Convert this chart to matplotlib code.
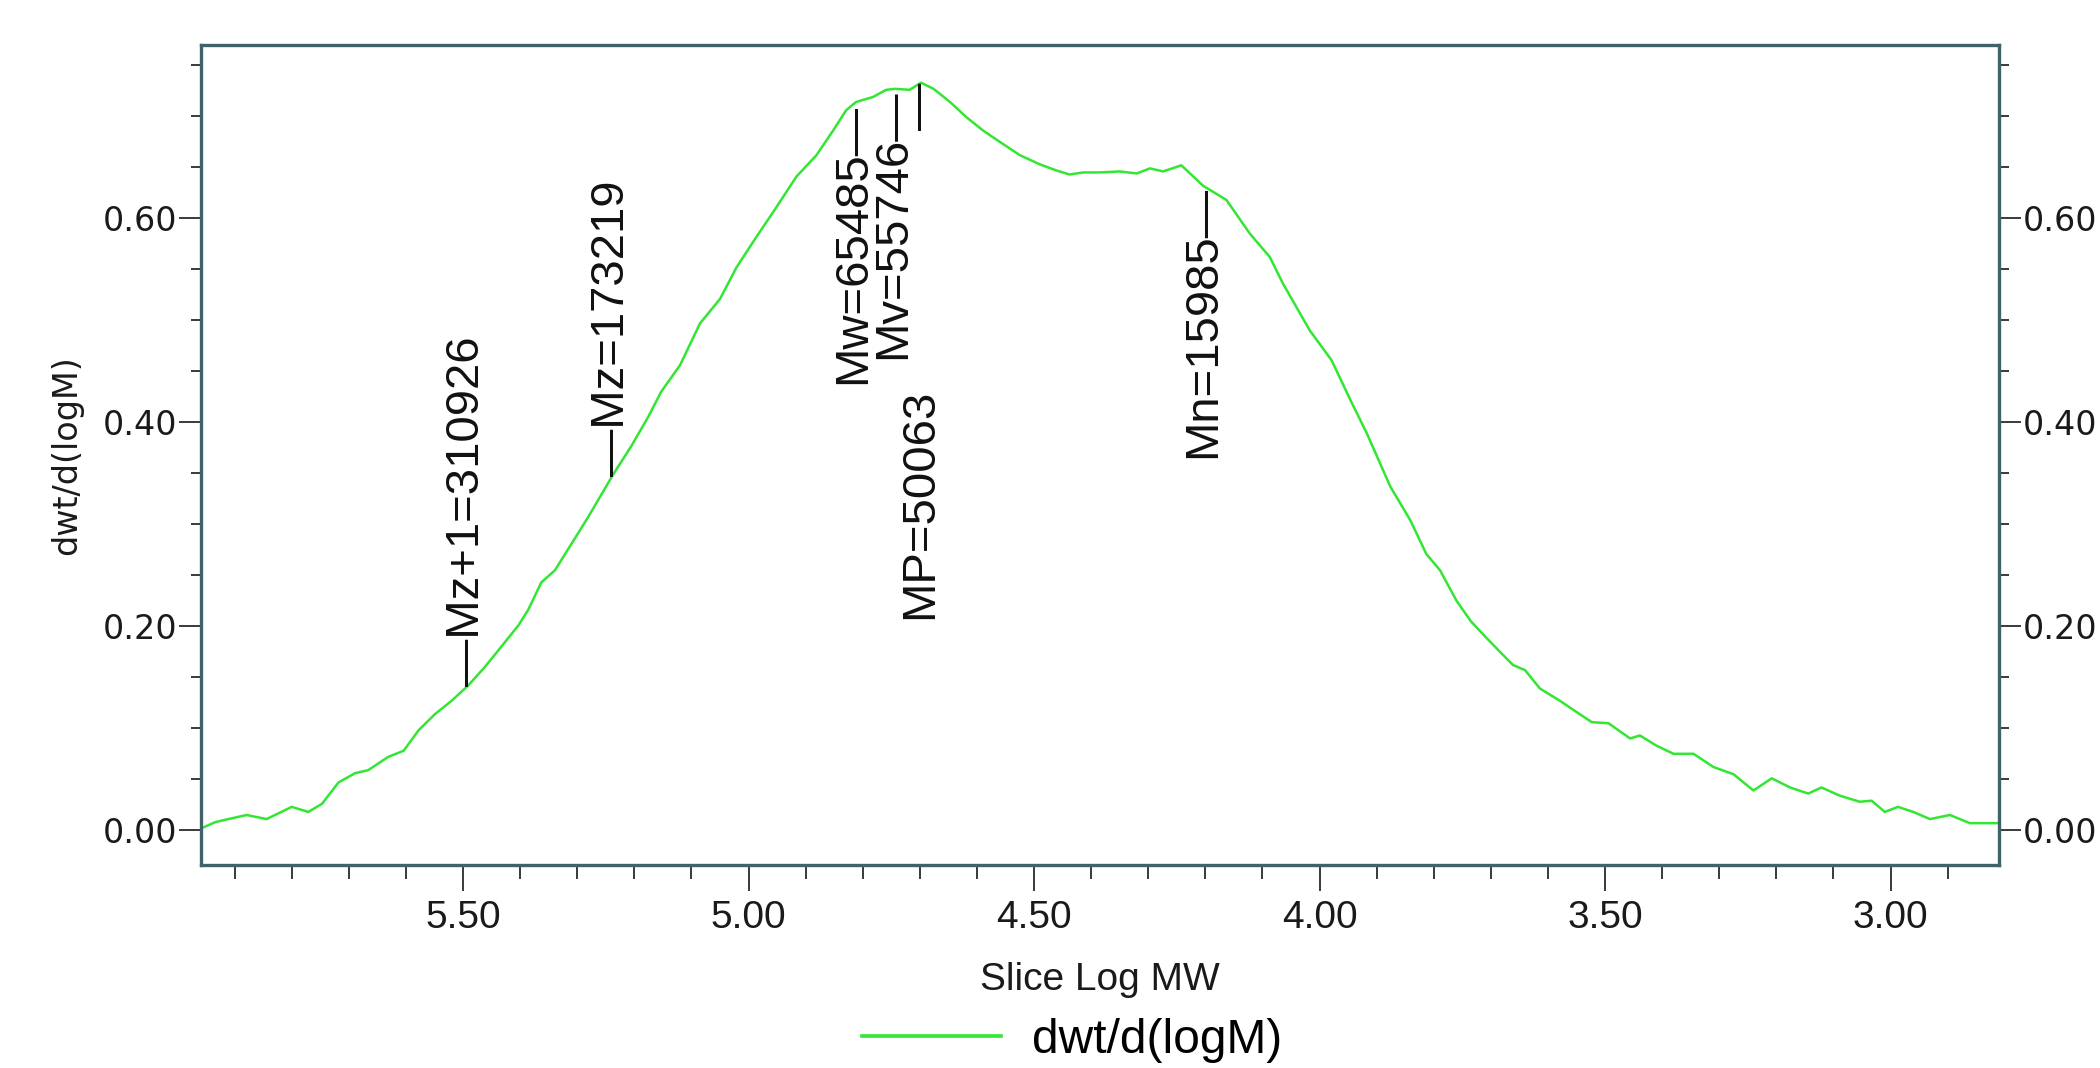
import numpy as np
import matplotlib
matplotlib.use("Agg")
import matplotlib.pyplot as plt
from matplotlib.ticker import MultipleLocator, FormatStrFormatter

# slice log MW and dwt/d(logM)
log_mw = [5.958, 5.934, 5.911, 5.879, 5.844, 5.800, 5.771, 5.747, 5.718, 5.689,
          5.666, 5.631, 5.604, 5.578, 5.549, 5.520, 5.491, 5.462, 5.433, 5.403,
          5.386, 5.363, 5.339, 5.310, 5.281, 5.237, 5.205, 5.176, 5.153, 5.120,
          5.085, 5.050, 5.021, 4.986, 4.957, 4.916, 4.881, 4.852, 4.829, 4.812,
          4.782, 4.759, 4.743, 4.718, 4.698, 4.676, 4.647, 4.618, 4.589, 4.560,
          4.525, 4.490, 4.461, 4.438, 4.414, 4.385, 4.350, 4.320, 4.297, 4.274,
          4.242, 4.204, 4.163, 4.122, 4.087, 4.064, 4.017, 3.979, 3.946, 3.917,
          3.876, 3.841, 3.813, 3.789, 3.760, 3.735, 3.710, 3.684, 3.661, 3.640,
          3.614, 3.579, 3.550, 3.523, 3.494, 3.456, 3.439, 3.410, 3.380, 3.345,
          3.310, 3.275, 3.240, 3.208, 3.176, 3.144, 3.121, 3.089, 3.054, 3.033,
          3.010, 2.987, 2.960, 2.931, 2.896, 2.861, 2.811]
dwt = [0.002, 0.008, 0.011, 0.015, 0.011, 0.023, 0.018, 0.026, 0.047, 0.056,
       0.059, 0.072, 0.078, 0.098, 0.114, 0.127, 0.142, 0.160, 0.180, 0.201,
       0.216, 0.243, 0.255, 0.281, 0.307, 0.349, 0.377, 0.405, 0.430, 0.456,
       0.497, 0.521, 0.552, 0.582, 0.606, 0.641, 0.662, 0.686, 0.706, 0.714,
       0.719, 0.726, 0.727, 0.726, 0.733, 0.727, 0.714, 0.699, 0.686, 0.675,
       0.662, 0.653, 0.647, 0.643, 0.645, 0.645, 0.646, 0.644, 0.649, 0.646,
       0.652, 0.632, 0.618, 0.585, 0.562, 0.536, 0.490, 0.461, 0.422, 0.389,
       0.337, 0.304, 0.271, 0.255, 0.225, 0.205, 0.190, 0.175, 0.162, 0.157,
       0.139, 0.127, 0.116, 0.106, 0.105, 0.090, 0.093, 0.083, 0.075, 0.075,
       0.062, 0.055, 0.039, 0.051, 0.042, 0.036, 0.042, 0.034, 0.028, 0.029,
       0.018, 0.023, 0.018, 0.011, 0.015, 0.007, 0.007]

# molecular weight averages
marker_names = ["Mz+1", "Mz", "Mw", "Mv", "MP", "Mn"]
marker_values = [310926, 173219, 65485, 55746, 50063, 15985]
marker_side = ["above", "above", "below", "below", "peak", "below"]

legend_label = "dwt/d(logM)"
x_label = "Slice Log MW"
y_label = "dwt/d(logM)"

line_color = "#33e633"
frame_color = "#3f6369"
tick_color = "#2b2b2b"

fig = plt.figure(figsize=(21, 10.68), dpi=100)
ax = fig.add_axes([0.0957, 0.1901, 0.8562, 0.7678])

line, = ax.plot(log_mw, dwt, color=line_color, lw=1.8, label=legend_label)

ax.set_xlim(5.959, 2.810)
ax.set_ylim(-0.034, 0.770)

ax.xaxis.set_major_locator(MultipleLocator(0.5))
ax.xaxis.set_minor_locator(MultipleLocator(0.1))
ax.xaxis.set_major_formatter(FormatStrFormatter("%.2f"))
ax.yaxis.set_major_locator(MultipleLocator(0.2))
ax.yaxis.set_minor_locator(MultipleLocator(0.05))
ax.yaxis.set_major_formatter(FormatStrFormatter("%.2f"))

ax.tick_params(axis="x", which="major", direction="out", length=19, width=1.3,
               color=tick_color, labelsize=28, pad=6, top=False,
               labelfontfamily="Liberation Sans", labelcolor="#1a1a1a")
ax.tick_params(axis="x", which="minor", direction="out", length=10, width=1.3,
               color=tick_color, top=False)
ax.tick_params(axis="y", which="major", direction="out", length=16, width=1.3,
               color=tick_color, labelsize=24, pad=1, right=True, labelright=True,
               labelfontfamily="DejaVu Sans", labelcolor="#1a1a1a")
ax.tick_params(axis="y", which="minor", direction="out", length=7, width=1.3,
               color=tick_color, right=True)

for s in ax.spines.values():
    s.set_color(frame_color)
    s.set_linewidth(2.4)

ax.set_xlabel(x_label, fontsize=28, family="Liberation Sans", va="center", color="#1a1a1a")
ax.xaxis.set_label_coords(0.5, -0.14)
ax.set_ylabel(y_label, fontsize=24, family="DejaVu Sans", va="center", ha="center", color="#1a1a1a")
ax.yaxis.set_label_coords(-0.0745, 0.5)

# marker labels sit on the curve
order = np.argsort(log_mw)
mx = np.log10(marker_values)
my = np.interp(mx, np.array(log_mw)[order], np.array(dwt)[order])
txt = dict(textcoords="offset points", rotation=90, ha="center", fontsize=34,
           family="Liberation Sans", color="#111111")
for name, val, x, y, side in zip(marker_names, marker_values, mx, my, marker_side):
    label = f"{name}={val}"
    if side == "above":
        ax.annotate("\u2014" + label, xy=(x, y), xytext=(0, 0), va="bottom", **txt)
    elif side == "below":
        ax.annotate(label + "\u2014", xy=(x, y), xytext=(0, 0), va="top", **txt)
    else:
        ax.annotate("\u2014", xy=(x, y), xytext=(0, 0), va="top", **txt)
        ax.annotate(label, xy=(x, y), xytext=(0, -220), va="top", **txt)

leg = fig.legend(handles=[line], labels=[legend_label], loc="center left",
                 bbox_to_anchor=(0.399, 0.026), frameon=False, borderpad=0,
                 handlelength=2.9, handletextpad=0.65,
                 prop={"family": "Liberation Sans", "size": 34.5})
leg.get_lines()[0].set_linewidth(2.6)

fig.savefig("out.png", dpi=100)
